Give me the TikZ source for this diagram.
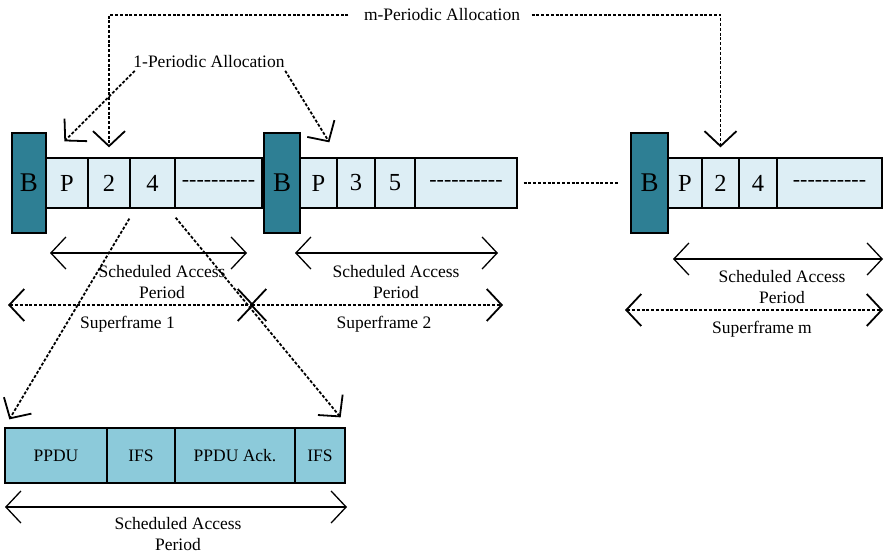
\documentclass[tikz,border=0pt]{standalone}
\usepackage{fontspec}
\setmainfont{Liberation Serif}
\usetikzlibrary{arrows.meta}

\definecolor{azulB}{RGB}{46,127,148}
\definecolor{azulRanura}{RGB}{221,238,245}
\definecolor{azulTrama}{RGB}{140,202,218}

% relleno de guiones dentro de las ranuras
\newcommand{\guiones}{-{}-{}-{}-{}-{}-{}-{}-{}-{}-}

\begin{document}
\begin{tikzpicture}[x=1pt, y=-1pt,
    >={Straight Barb[length=15pt, width=32pt]},
    line width=1.3pt,
    etiq/.style={font=\fontsize{17.5}{20.5}\selectfont, inner sep=2pt, align=center},
    baliza/.style={draw, fill=azulB, minimum height=100pt, inner sep=0pt,
                   font=\fontsize{27}{27}\selectfont},
    ranura/.style={draw, fill=azulRanura, minimum height=50pt, inner sep=0pt,
                   font=\fontsize{24.5}{24.5}\selectfont},
    trama/.style={draw, fill=azulTrama, minimum height=55pt, inner sep=0pt,
                  font=\fontsize{17.5}{20.5}\selectfont},
    punteada/.style={dash pattern=on 3pt off 1.8pt, line width=1.8pt}]

\useasboundingbox (0,0) rectangle (885,556);

% ═══════════════════════════════════════════════════════
% SUPERTRAMA 1
% ═══════════════════════════════════════════════════════
\node[baliza, minimum width=34pt] (b1) at (29,183) {B};
\node[ranura, minimum width=42pt] (p1) at (67,183) {P};
\node[ranura, minimum width=42pt] (s2a) at (109,183) {2};
\node[ranura, minimum width=45pt] (s4a) at (152.5,183) {4};
\node[ranura, minimum width=87pt, font=\fontsize{22}{22}\selectfont] (d1) at (218.5,183) {\guiones};

% ═══════════════════════════════════════════════════════
% SUPERTRAMA 2
% ═══════════════════════════════════════════════════════
\node[baliza, minimum width=36pt] (b2) at (282,183) {B};
\node[ranura, minimum width=37pt] (p2) at (318.5,183) {P};
\node[ranura, minimum width=38pt] (s3b) at (356,183) {3};
\node[ranura, minimum width=40pt] (s5b) at (395,183) {5};
\node[ranura, minimum width=102pt, font=\fontsize{22}{22}\selectfont] (d2) at (466,183) {\guiones};

% ═══════════════════════════════════════════════════════
% SUPERTRAMA m
% ═══════════════════════════════════════════════════════
\node[baliza, minimum width=37pt] (b3) at (649.5,183) {B};
\node[ranura, minimum width=34pt] (p3) at (685,183) {P};
\node[ranura, minimum width=37pt] (s2m) at (720.5,183) {2};
\node[ranura, minimum width=38pt] (s4m) at (758,183) {4};
\node[ranura, minimum width=105pt, font=\fontsize{22}{22}\selectfont] (d3) at (829.5,183) {\guiones};

% supertramas intermedias
\draw[punteada, line width=1.5pt] ([xshift=6pt]d2.east) -- ([xshift=-11pt]b3.west);

% ═══════════════════════════════════════════════════════
% ASIGNACIONES PERIODICAS
% ═══════════════════════════════════════════════════════
\node[etiq] (mper) at (442,15) {m-Periodic Allocation};
\node[etiq] (uper) at (209,62) {1-Periodic Allocation};

\coordinate (tip2a) at ([yshift=10pt]s2a.north);
\coordinate (tip2m) at ([yshift=10pt]s2m.north);
\draw[punteada, ->] ([xshift=-13pt]mper.west) -| (tip2a);
\draw[punteada, ->] ([xshift=9pt]mper.east) -| (tip2m);

\coordinate (tipP1) at ([xshift=19pt, yshift=16pt]p1.north west);
\coordinate (tipP2) at ([xshift=30pt, yshift=15pt]p2.north west);
\draw[punteada, ->] ([xshift=4pt]uper.south west) -- (tipP1);
\draw[punteada, ->] ([xshift=-2pt]uper.south east) -- (tipP2);

% ═══════════════════════════════════════════════════════
% PERIODOS Y SUPERTRAMAS
% ═══════════════════════════════════════════════════════
\coordinate (sa1i) at (50,253);   \coordinate (sa1d) at (247,253);
\coordinate (sa2i) at (295,253);  \coordinate (sa2d) at (498,253);
\coordinate (sa3i) at (673,259);  \coordinate (sa3d) at (883,259);
\draw[<->] (sa1i) -- (sa1d);
\draw[<->] (sa2i) -- (sa2d);
\draw[<->] (sa3i) -- (sa3d);
\node[etiq, anchor=north] (sa1) at (162,263) {Scheduled Access\\Period};
\node[etiq, anchor=north] (sa2) at (396,263) {Scheduled Access\\Period};
\node[etiq, anchor=north] (sa3) at (782,268) {Scheduled Access\\Period};

\coordinate (sf1i) at (8,305);    \coordinate (sf1d) at (254,305);
\coordinate (sf2i) at (250,305);  \coordinate (sf2d) at (503,305);
\coordinate (sfmi) at (625,310);  \coordinate (sfmd) at (883,310);
\draw[punteada, <->] (sf1i) -- (sf1d);
\draw[punteada, <->] (sf2i) -- (sf2d);
\draw[punteada, <->] (sfmi) -- (sfmd);
\node[etiq, anchor=base] (sf1) at (127.5,328) {Superframe 1};
\node[etiq, anchor=base] (sf2) at (384,328) {Superframe 2};
\node[etiq, anchor=base] (sfm) at (762,333) {Superframe m};

% ═══════════════════════════════════════════════════════
% DETALLE DE LA RANURA 4
% ═══════════════════════════════════════════════════════
\node[trama, minimum width=102pt] (ppdu) at (56,455.5) {PPDU};
\node[trama, minimum width=68pt] (ifs1) at (141,455.5) {IFS};
\node[trama, minimum width=120pt] (ack) at (235,455.5) {PPDU Ack.};
\node[trama, minimum width=50pt] (ifs2) at (320,455.5) {IFS};

\coordinate (tipPPDU) at ([xshift=5pt, yshift=8pt]ppdu.north west);
\coordinate (tipIFS) at ([xshift=-5pt, yshift=10pt]ifs2.north east);
\draw[punteada, ->] ([yshift=-10pt]s4a.south west) -- (tipPPDU);
\draw[punteada, ->] ([yshift=-9pt]s4a.south east) -- (tipIFS);

\coordinate (sa4i) at (5,507);  \coordinate (sa4d) at (347,507);
\draw[<->] (sa4i) -- (sa4d);
\node[etiq, anchor=north] (sa4) at (178,515) {Scheduled Access\\Period};

\end{tikzpicture}
\end{document}
